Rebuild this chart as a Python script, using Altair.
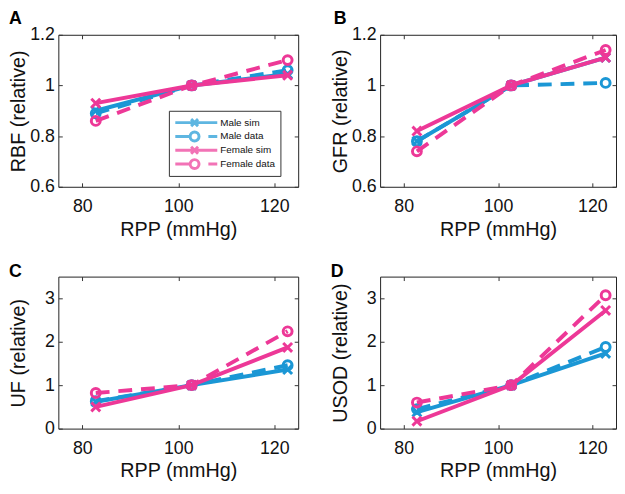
import altair as alt
import pandas as pd

FONT = "Liberation Sans"

rpp = [82.8, 102.8, 122.8]
series_names = ["Male sim", "Male data", "Female sim", "Female data"]
series_colors = ["#1b97d5", "#1b97d5", "#ed3897", "#ed3897"]

rbf = {
    "Male sim": [0.90, 1.0, 1.045],
    "Male data": [0.89, 1.0, 1.06],
    "Female sim": [0.93, 1.0, 1.04],
    "Female data": [0.86, 1.0, 1.10],
}
gfr = {
    "Male sim": [0.78, 1.0, 1.11],
    "Male data": [0.78, 1.0, 1.01],
    "Female sim": [0.82, 1.0, 1.11],
    "Female data": [0.74, 1.0, 1.14],
}
uf = {
    "Male sim": [0.62, 1.0, 1.36],
    "Male data": [0.63, 1.0, 1.46],
    "Female sim": [0.50, 1.0, 1.87],
    "Female data": [0.82, 1.0, 2.24],
}
usod = {
    "Male sim": [0.38, 1.0, 1.73],
    "Male data": [0.45, 1.0, 1.88],
    "Female sim": [0.17, 1.0, 2.72],
    "Female data": [0.60, 1.0, 3.07],
}

x_ticks = [80, 100, 120]
y_ticks_top = [0.6, 0.8, 1.0, 1.2]
y_ticks_bottom = [0, 1, 2, 3]

X_PATH = "M -1 -1 L 1 1 M -1 1 L 1 -1"
LEG_SIM = "M -1 0 L 6.73 0 M 1.91 -0.64 L 3.19 0.64 M 1.91 0.64 L 3.19 -0.64"
LEG_DATA = ("M -1 0 L 1.73 0 M 3.37 0 A 0.82 0.82 0 1 1 1.73 0 "
            "A 0.82 0.82 0 1 1 3.37 0 M 5.09 0 L 6.73 0")
legend_paths = [LEG_SIM, LEG_DATA, LEG_SIM, LEG_DATA]

W1, W2, H = 243, 239, 154


def panel(letter, ytitle, vals, ydom, yticks, yfmt, dx, toff, width, with_legend=False):
    rows = []
    for s in series_names:
        for xv, yv in zip(rpp, vals[s]):
            rows.append({"series": s, "x": xv, "y": yv})
    df = pd.DataFrame(rows)
    base = alt.Chart(df)
    xs = alt.Scale(domain=[75, 125], nice=False, zero=False)
    ys = alt.Scale(domain=ydom, nice=False, zero=False)

    x_bottom = alt.Axis(orient="bottom", values=x_ticks, title="RPP (mmHg)",
                        offset=-4, tickSize=4, labelPadding=11, titlePadding=4)
    y_left = alt.Axis(orient="left", values=yticks, format=yfmt, title=ytitle,
                      offset=-4, tickSize=4, labelPadding=4,
                      titleX=-34, titleY=H / 2, titleAngle=270,
                      titleAlign="center", titleBaseline="bottom")
    x_top = alt.Axis(orient="top", values=x_ticks, title=None, labels=False,
                     offset=-4, tickSize=4)
    y_right = alt.Axis(orient="right", values=yticks, title=None, labels=False,
                       offset=-4, tickSize=4)

    layers = [
        base.mark_point(opacity=0).encode(
            x=alt.X("x:Q", scale=xs, axis=x_bottom),
            y=alt.Y("y:Q", scale=ys, axis=y_left),
        ),
        base.mark_point(opacity=0).encode(
            x=alt.X("x:Q", scale=xs, axis=x_top),
            y=alt.Y("y:Q", scale=ys, axis=y_right),
        ),
    ]
    for s, c in zip(series_names, series_colors):
        sub = base.transform_filter(alt.datum.series == s)
        enc = dict(x=alt.X("x:Q", scale=xs, axis=None),
                   y=alt.Y("y:Q", scale=ys, axis=None))
        if "sim" in s:
            line = sub.mark_line(color=c, strokeWidth=4)
            pts = sub.mark_point(shape=X_PATH, filled=False, color=c,
                                 strokeWidth=3, size=81, opacity=1)
        else:
            line = sub.mark_line(color=c, strokeWidth=4, strokeDash=[14, 9])
            pts = sub.mark_point(shape="circle", filled=False, color=c,
                                 strokeWidth=3, size=81, opacity=1)
        layers.append(line.encode(**enc))
        layers.append(pts.encode(**enc))

    if with_legend:
        leg = alt.Legend(orient="none", legendX=112, legendY=77, title=None,
                         labelFont=FONT, labelFontSize=10, labelColor="#111",
                         symbolSize=121, symbolStrokeWidth=3, labelOffset=33,
                         padding=5, rowPadding=0, clipHeight=14, strokeColor="#333",
                         fillColor="white", symbolFillColor="transparent")
        layers.append(
            base.transform_filter("false").mark_point(filled=False).encode(
                x=alt.X("x:Q", scale=xs, axis=None),
                y=alt.Y("y:Q", scale=ys, axis=None),
                color=alt.Color("series:N", scale=alt.Scale(domain=series_names, range=series_colors), legend=leg),
                shape=alt.Shape("series:N", scale=alt.Scale(domain=series_names, range=legend_paths), legend=leg),
            )
        )

    return alt.layer(*layers).resolve_axis(x="independent", y="independent").properties(
        width=width, height=H,
        title=alt.TitleParams(text=letter, anchor="start", frame="group", dx=dx, offset=toff,
                              fontSize=18, fontWeight="bold", font=FONT, color="#000"),
    )


A = panel("A", "RBF (relative)", rbf, [0.6, 1.2], y_ticks_top, "~g", -50, -2, W1, True)
B = panel("B", "GFR (relative)", gfr, [0.6, 1.2], y_ticks_top, "~g", -47, -2, W2)
C = panel("C", "UF (relative)", uf, [0, 3.5], y_ticks_bottom, "d", -50, -5, W1)
D = panel("D", "USOD (relative)", usod, [0, 3.5], y_ticks_bottom, "d", -50, -5, W2)

chart = alt.vconcat(
    alt.hconcat(A, B, spacing=31),
    alt.hconcat(C, D, spacing=31),
    spacing=23,
).properties(padding={"left": 0, "top": -2, "right": 0, "bottom": 0}).configure_view(
    stroke="#222", strokeWidth=1
).configure_axis(
    grid=False, domain=False, tickColor="#333", tickWidth=1,
    labelFont=FONT, labelFontSize=18, labelColor="#111",
    titleFont=FONT, titleFontSize=20, titleFontWeight="normal", titleColor="#111",
).configure_title(anchor="start")

chart.save("out.html", embed_options={"renderer": "svg", "actions": False})
